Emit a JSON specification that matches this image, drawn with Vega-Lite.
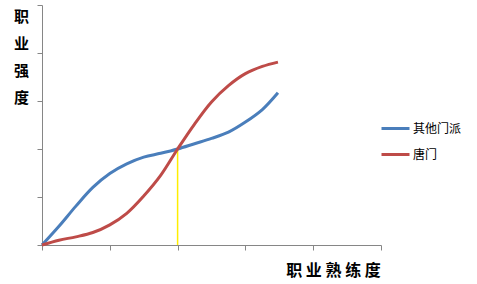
{
  "$schema": "https://vega.github.io/schema/vega-lite/v6.json",
  "width": 339,
  "height": 240,
  "autosize": {"type": "none"},
  "padding": {"left": 42, "top": 5, "right": 96, "bottom": 39},
  "background": "white",
  "config": {
    "view": {"stroke": null},
    "axis": {
      "grid": false,
      "labels": false,
      "domainColor": "#868686",
      "tickColor": "#868686",
      "tickSize": 5,
      "titleFont": "Noto Sans CJK SC",
      "titleFontWeight": "bold",
      "titleColor": "#000000"
    }
  },
  "datasets": {
    "curves": [
      {"x": 0, "y": 0, "series": "其他门派"},
      {"x": 0.25, "y": 0.39, "series": "其他门派"},
      {"x": 0.5, "y": 0.81, "series": "其他门派"},
      {"x": 0.75, "y": 1.2, "series": "其他门派"},
      {"x": 1, "y": 1.49, "series": "其他门派"},
      {"x": 1.25, "y": 1.69, "series": "其他门派"},
      {"x": 1.5, "y": 1.83, "series": "其他门派"},
      {"x": 1.75, "y": 1.91, "series": "其他门派"},
      {"x": 2, "y": 2.0, "series": "其他门派"},
      {"x": 2.25, "y": 2.11, "series": "其他门派"},
      {"x": 2.5, "y": 2.22, "series": "其他门派"},
      {"x": 2.75, "y": 2.35, "series": "其他门派"},
      {"x": 3, "y": 2.56, "series": "其他门派"},
      {"x": 3.25, "y": 2.82, "series": "其他门派"},
      {"x": 3.48, "y": 3.17, "series": "其他门派"},
      {"x": 0, "y": 0, "series": "唐门"},
      {"x": 0.25, "y": 0.1, "series": "唐门"},
      {"x": 0.5, "y": 0.17, "series": "唐门"},
      {"x": 0.75, "y": 0.26, "series": "唐门"},
      {"x": 1, "y": 0.42, "series": "唐门"},
      {"x": 1.25, "y": 0.66, "series": "唐门"},
      {"x": 1.5, "y": 1.02, "series": "唐门"},
      {"x": 1.75, "y": 1.45, "series": "唐门"},
      {"x": 2, "y": 2.0, "series": "唐门"},
      {"x": 2.25, "y": 2.52, "series": "唐门"},
      {"x": 2.5, "y": 2.98, "series": "唐门"},
      {"x": 2.75, "y": 3.32, "series": "唐门"},
      {"x": 3, "y": 3.57, "series": "唐门"},
      {"x": 3.25, "y": 3.72, "series": "唐门"},
      {"x": 3.48, "y": 3.81, "series": "唐门"}
    ],
    "marker": [
      {"x": 2, "y": 0, "y2": 2}
    ]
  },
  "layer": [
    {
      "data": {"name": "marker"},
      "mark": {"type": "rule", "color": "#FFEE00", "strokeWidth": 1.5},
      "encoding": {
        "x": {"field": "x", "type": "quantitative", "scale": {"domain": [0, 5], "nice": false}},
        "y": {"field": "y", "type": "quantitative", "scale": {"domain": [0, 5], "nice": false}},
        "y2": {"field": "y2"}
      }
    },
    {
      "data": {"name": "curves"},
      "mark": {"type": "line", "interpolate": "catmull-rom", "strokeWidth": 3},
      "encoding": {
        "x": {
          "field": "x",
          "type": "quantitative",
          "scale": {"domain": [0, 5], "nice": false},
          "axis": {
            "values": [0, 1, 2, 3, 4, 5],
            "title": "职 业 熟 练 度",
            "titleFontSize": 16,
            "titleX": 291,
            "titleY": 25,
            "titleAlign": "center",
            "titleBaseline": "middle"
          }
        },
        "y": {
          "field": "y",
          "type": "quantitative",
          "scale": {"domain": [0, 5], "nice": false},
          "axis": {
            "values": [0, 1, 2, 3, 4, 5],
            "title": ["职", "业", "强", "度"],
            "titleAngle": 0,
            "titleFontSize": 15,
            "titleLineHeight": 27,
            "titleX": -21,
            "titleY": 4,
            "titleAlign": "center",
            "titleBaseline": "top"
          }
        },
        "color": {
          "field": "series",
          "type": "nominal",
          "scale": {"domain": ["其他门派", "唐门"], "range": ["#4A7EBB", "#BE4B48"]},
          "legend": {
            "title": null,
            "orient": "none",
            "legendX": 338,
            "legendY": 108,
            "symbolType": "stroke",
            "symbolSize": 784,
            "symbolStrokeWidth": 3,
            "symbolOffset": 0,
            "labelFont": "Noto Sans CJK SC",
            "labelFontSize": 12,
            "labelColor": "#000000",
            "labelOffset": 2,
            "rowPadding": 4
          }
        }
      }
    }
  ]
}
